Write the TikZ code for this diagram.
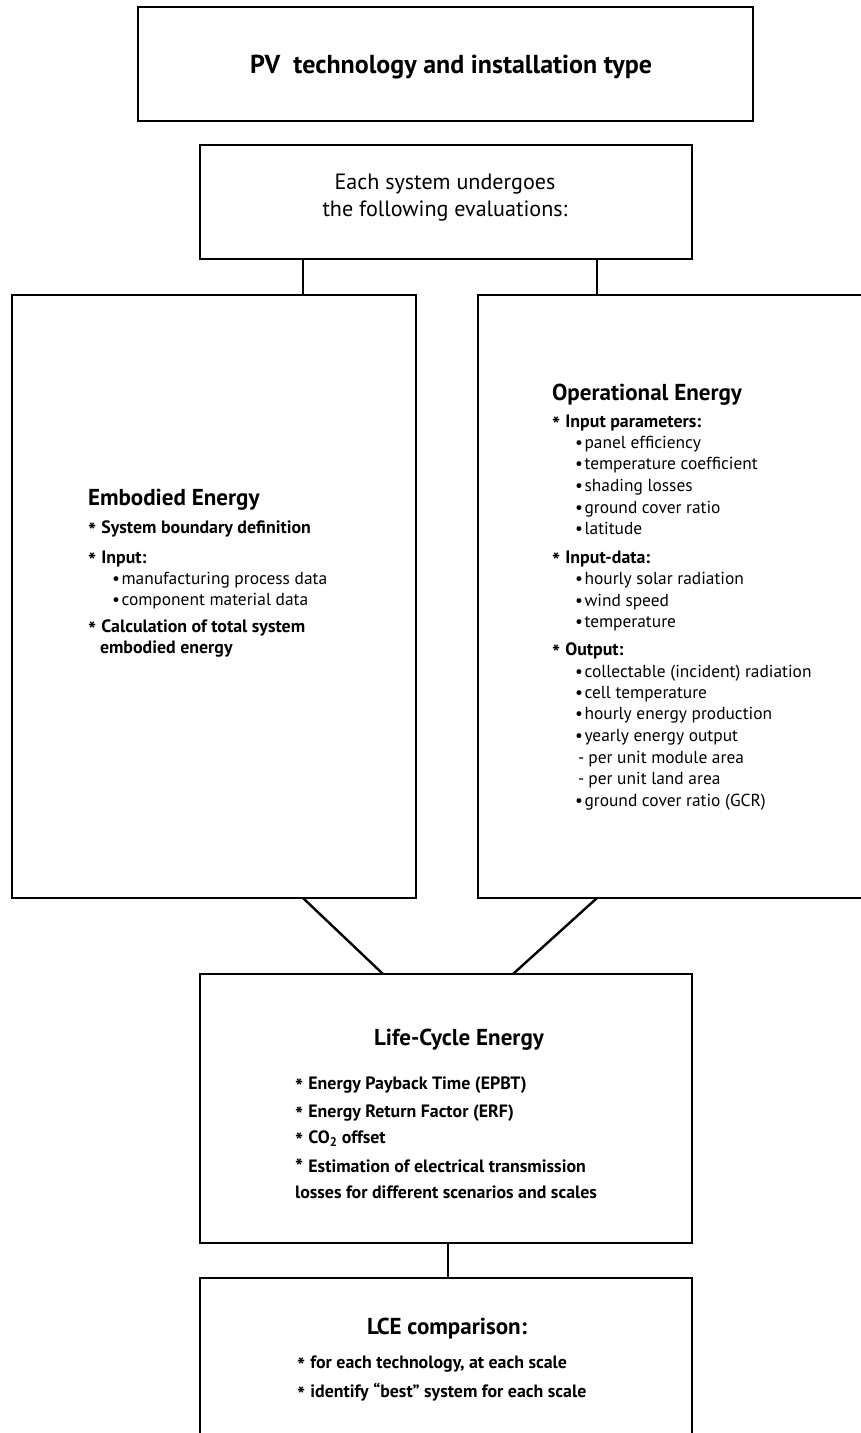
\documentclass[tikz,border=0pt]{standalone}
\usepackage{graphicx}
\usepackage{fontspec}
\setmainfont{PT Sans}
\usetikzlibrary{calc}
\newlength\mylen
\newcommand\fitsz[3]{\settowidth\mylen{\fontsize{10pt}{12pt}\selectfont #3}\pgfmathsetmacro#1{10*#2/\mylen}\global\let#1#1}
\newcommand\fA{\fontsize{\szA pt}{\szA pt}\selectfont\bfseries}
\newcommand\fH{\fontsize{\szH pt}{\szH pt}\selectfont\bfseries}
\newcommand\fE{\fontsize{\szE pt}{\szE pt}\selectfont}
\newcommand\fB{\fontsize{\szB pt}{\szB pt}\selectfont\bfseries}
\newcommand\fR{\fontsize{\szR pt}{\szR pt}\selectfont}
\newcommand\stx{\makebox[0.75em][l]{\raisebox{-0.28em}{\scalebox{1.2}{*}}}}
\newcommand\bul{\makebox[0.55em][l]{\textbullet}}
\newcommand\dsh{\makebox[0.6em][l]{-}}
\begin{document}
\fitsz\szA{402}{\bfseries PV\hspace{0.25em} technology and installation type}%
\fitsz\szH{190}{\bfseries Operational Energy}%
\fitsz\szE{245}{the following evaluations:}%
\fitsz\szB{302}{\bfseries losses for different scenarios and scales}%
\fitsz\szR{227}{collectable (incident) radiation}%
\begin{tikzpicture}[x=1pt,y=-1pt,
  box/.style={draw, line width=2.6pt, inner sep=0pt, outer sep=0pt, anchor=north west},
  conn/.style={line width=2.4pt},
  tl/.style={anchor=base west, inner sep=0pt, outer sep=0pt},
  tc/.style={anchor=base, inner sep=0pt, outer sep=0pt}]
\useasboundingbox (0,0) rectangle (861,1433);
\clip (0,0) rectangle (861,1433);
% boxes
\node[box, minimum width=615pt, minimum height=114pt] (pv) at (138,7) {};
\node[box, minimum width=492pt, minimum height=114pt] (eval) at (200,145) {};
\node[box, minimum width=404pt, minimum height=603pt] (emb) at (12,295) {};
\node[box, minimum width=400pt, minimum height=603pt] (op) at (478,295) {};
\node[box, minimum width=492pt, minimum height=269pt] (lce) at (200,974) {};
\node[box, minimum width=492pt, minimum height=200pt] (cmp) at (200,1278) {};
% connectors
\coordinate (xl) at (303,0);
\coordinate (xr) at (597,0);
\coordinate (xm) at (448,0);
\coordinate (dl) at (383,0);
\coordinate (dr) at (513,0);
\draw[conn] (eval.south -| xl) -- (emb.north -| xl);
\draw[conn] (eval.south -| xr) -- (op.north -| xr);
\draw[conn] (emb.south -| xl) -- (lce.north -| dl);
\draw[conn] (op.south -| xr) -- (lce.north -| dr);
\draw[conn] (lce.south -| xm) -- (cmp.north -| xm);
% top texts
\node[tc] (t1) at (451,{64+0.35*\szA}) {\fA PV\hspace{0.25em} technology and installation type};
\node[tc] (t2a) at (445,{183+0.3*\szE}) {\fE Each system undergoes};
\node[tc] (t2b) at (445,{210+0.3*\szE}) {\fE the following evaluations:};
% embodied
\node[tl] (e0) at (88,{498+0.33*\szH}) {\fH Embodied Energy};
\node[tl] (e1) at (88,{528+0.3*\szB}) {\fB\stx System boundary definition};
\node[tl] (e2) at (88,{558+0.3*\szB}) {\fB\stx Input:};
\node[tl] (e3) at (112,{579+0.3*\szR}) {\fR\bul manufacturing process data};
\node[tl] (e4) at (112,{600+0.3*\szR}) {\fR\bul component material data};
\node[tl] (e5) at (88,{627+0.3*\szB}) {\fB\stx Calculation of total system};
\node[tl] (e6) at (100,{648+0.3*\szB}) {\fB embodied energy};
% operational
\node[tl] (o0) at (552,{393+0.33*\szH}) {\fH Operational Energy};
\node[tl] (o1) at (552,{422+0.3*\szB}) {\fB\stx Input parameters:};
\node[tl] (o2) at (575,{443+0.3*\szR}) {\fR\bul panel efficiency};
\node[tl] (o3) at (575,{464+0.3*\szR}) {\fR\bul temperature coefficient};
\node[tl] (o4) at (575,{486+0.3*\szR}) {\fR\bul shading losses};
\node[tl] (o5) at (575,{508+0.3*\szR}) {\fR\bul ground cover ratio};
\node[tl] (o6) at (575,{529+0.3*\szR}) {\fR\bul latitude};
\node[tl] (o7) at (552,{558+0.3*\szB}) {\fB\stx Input-data:};
\node[tl] (o8) at (575,{579+0.3*\szR}) {\fR\bul hourly solar radiation};
\node[tl] (o9) at (575,{601+0.3*\szR}) {\fR\bul wind speed};
\node[tl] (o10) at (575,{622+0.3*\szR}) {\fR\bul temperature};
\node[tl] (o11) at (552,{650+0.3*\szB}) {\fB\stx Output:};
\node[tl] (o12) at (575,{672+0.3*\szR}) {\fR\bul collectable (incident) radiation};
\node[tl] (o13) at (575,{693+0.3*\szR}) {\fR\bul cell temperature};
\node[tl] (o14) at (575,{714+0.3*\szR}) {\fR\bul hourly energy production};
\node[tl] (o15) at (575,{736+0.3*\szR}) {\fR\bul yearly energy output};
\node[tl] (o16) at (578,{758+0.3*\szR}) {\fR\dsh per unit module area};
\node[tl] (o17) at (578,{779+0.3*\szR}) {\fR\dsh per unit land area};
\node[tl] (o18) at (575,{801+0.3*\szR}) {\fR\bul ground cover ratio (GCR)};
% life-cycle
\node[tc] (l0) at (459,{1038+0.33*\szH}) {\fH Life-Cycle Energy};
\node[tl] (l1) at (295,{1084+0.3*\szB}) {\fB\stx Energy Payback Time (EPBT)};
\node[tl] (l2) at (295,{1112+0.3*\szB}) {\fB\stx Energy Return Factor (ERF)};
\node[tl] (l3) at (295,{1138+0.3*\szB}) {\fB\stx CO\textsubscript{2} offset};
\node[tl] (l4) at (295,{1167+0.3*\szB}) {\fB\makebox[0.75em][l]{\raisebox{-0.12em}{\scalebox{1.2}{*}}}Estimation of electrical transmission};
\node[tl] (l5) at (295,{1193+0.3*\szB}) {\fB losses for different scenarios and scales};
% comparison
\node[tc] (c0) at (447,{1327+0.33*\szH}) {\fH LCE comparison:};
\node[tl] (c1) at (297,{1363+0.3*\szB}) {\fB\stx for each technology, at each scale};
\node[tl] (c2) at (297,{1392+0.3*\szB}) {\fB\stx identify “best” system for each scale};
\end{tikzpicture}
\end{document}
